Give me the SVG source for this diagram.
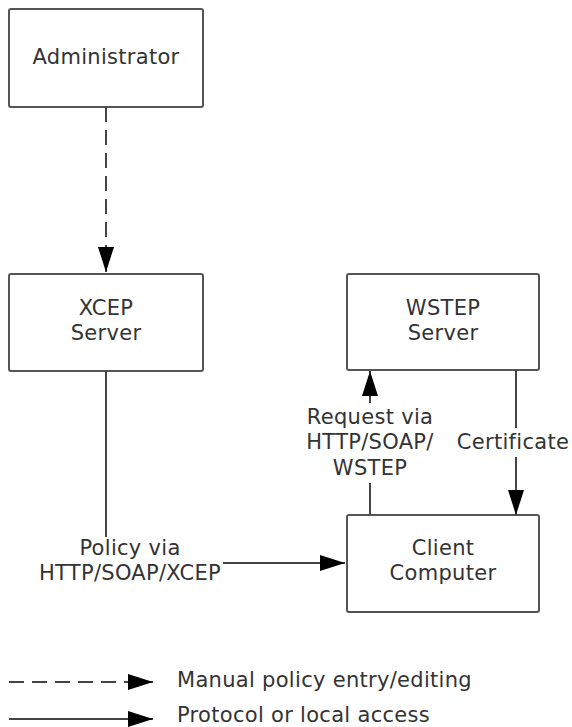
<svg xmlns="http://www.w3.org/2000/svg" width="572" height="727" viewBox="0 0 572 727">
<style>
.box{fill:#fff;stroke:#555;stroke-width:2}
text{font-family:"DejaVu Sans",Verdana,sans-serif;font-size:21px;letter-spacing:0.3px;fill:#333;text-anchor:middle;dominant-baseline:central}
.ln{stroke:#444;stroke-width:2;fill:none}
.dash{stroke-dasharray:15,8}
.lg{text-anchor:start}
</style>
<defs>
<marker id="ah" markerWidth="25" markerHeight="16" refX="25" refY="8" orient="auto" markerUnits="userSpaceOnUse">
<path d="M0,0 L25,8 L0,16 Z" fill="#000"/>
</marker>
</defs>
<rect width="572" height="727" fill="#fff"/>
<g id="administrator">
<rect class="box" x="9" y="9" width="194" height="98" rx="2"/>
<text x="106" y="57">Administrator</text>
</g>
<g id="xcep-server">
<rect class="box" x="9" y="274" width="194" height="97" rx="2"/>
<text x="106" y="308">XCEP</text>
<text x="106" y="333">Server</text>
</g>
<g id="wstep-server">
<rect class="box" x="347" y="274" width="192" height="96" rx="2"/>
<text x="443" y="308">WSTEP</text>
<text x="443" y="333">Server</text>
</g>
<g id="client-computer">
<rect class="box" x="347" y="515" width="192" height="97" rx="2"/>
<text x="443" y="548">Client</text>
<text x="443" y="573">Computer</text>
</g>
<g id="connectors">
<line class="ln dash" x1="106" y1="107" x2="106" y2="272" marker-end="url(#ah)"/>
<polyline class="ln" points="106,371 106,537"/>
<line class="ln" x1="223" y1="563" x2="345" y2="563" marker-end="url(#ah)"/>
<text x="130" y="548">Policy via</text>
<text x="130" y="573">HTTP/SOAP/XCEP</text>
<line class="ln" x1="370" y1="515" x2="370" y2="483"/>
<line class="ln" x1="370" y1="403" x2="370" y2="371" marker-end="url(#ah)"/>
<text x="370" y="417">Request via</text>
<text x="370" y="442">HTTP/SOAP/</text>
<text x="370" y="468">WSTEP</text>
<line class="ln" x1="516" y1="370" x2="516" y2="428"/>
<line class="ln" x1="516" y1="457" x2="516" y2="515" marker-end="url(#ah)"/>
<text x="513" y="442">Certificate</text>
</g>
<g id="legend">
<line class="ln dash" x1="9" y1="682" x2="153" y2="682" marker-end="url(#ah)"/>
<text class="lg" x="177" y="680">Manual policy entry/editing</text>
<line class="ln" x1="9" y1="719" x2="153" y2="719" marker-end="url(#ah)"/>
<text class="lg" x="177" y="715">Protocol or local access</text>
</g>
</svg>
